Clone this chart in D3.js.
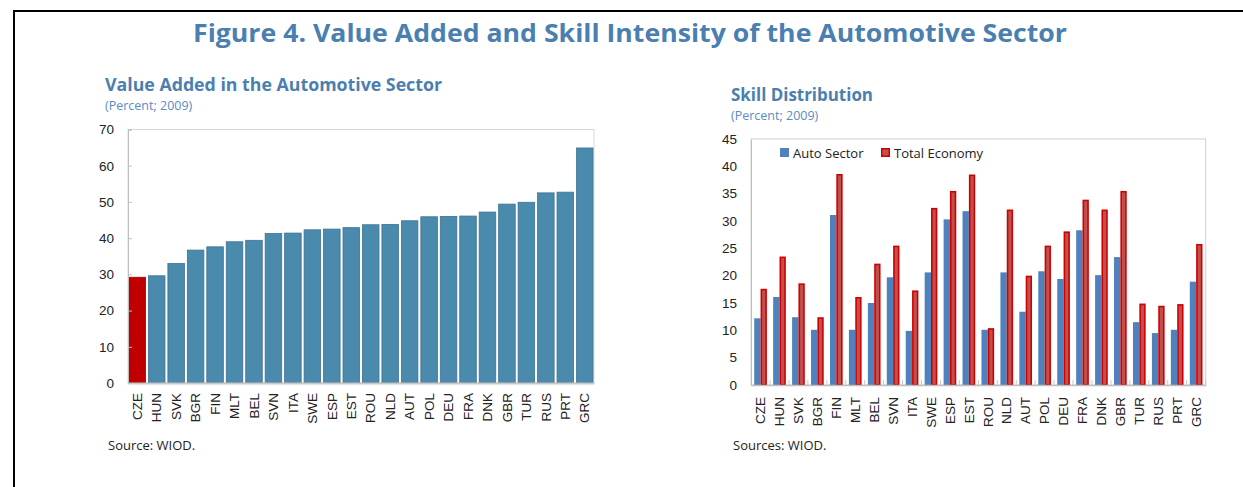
<!DOCTYPE html>
<html>
<head>
<meta charset="utf-8">
<script src="https://cdn.jsdelivr.net/npm/d3@7"></script>
<style>
  body { margin: 0; background: #fff; }
  svg { display: block; font-family: "Open Sans", "Noto Sans", sans-serif; }
</style>
</head>
<body>
<div id="chart"></div>
<script>
// data
const figureTitle = "Figure 4. Value Added and Skill Intensity of the Automotive Sector";

const vaCountries = ["CZE","HUN","SVK","BGR","FIN","MLT","BEL","SVN","ITA","SWE","ESP","EST",
  "ROU","NLD","AUT","POL","DEU","FRA","DNK","GBR","TUR","RUS","PRT","GRC"];
const vaValues = [29.2, 29.6, 33.0, 36.7, 37.6, 39.0, 39.4, 41.3, 41.4, 42.3, 42.5, 42.9,
  43.7, 43.8, 44.8, 45.9, 46.0, 46.1, 47.2, 49.4, 49.9, 52.5, 52.7, 64.9];
const vaHighlight = "CZE";
const vaTicks = [0, 10, 20, 30, 40, 50, 60, 70];

const skillCountries = ["CZE","HUN","SVK","BGR","FIN","MLT","BEL","SVN","ITA","SWE","ESP","EST",
  "ROU","NLD","AUT","POL","DEU","FRA","DNK","GBR","TUR","RUS","PRT","GRC"];
const autoSector = [12.2, 16.1, 12.4, 10.1, 31.1, 10.1, 15.0, 19.7, 9.9, 20.6, 30.3, 31.8,
  10.1, 20.6, 13.4, 20.8, 19.4, 28.3, 20.1, 23.4, 11.5, 9.5, 10.1, 18.9];
const totalEconomy = [17.6, 23.5, 18.6, 12.4, 38.6, 16.1, 22.2, 25.5, 17.3, 32.4, 35.5, 38.5,
  10.4, 32.1, 20.0, 25.5, 28.1, 33.9, 32.1, 35.5, 14.9, 14.5, 14.8, 25.8];
const seriesNames = ["Auto Sector", "Total Economy"];
const skillTicks = [0, 5, 10, 15, 20, 25, 30, 35, 40, 45];

const width = 1243, height = 487;
const blueTitle = "#4a7fb0";

const svg = d3.select("#chart").append("svg")
  .attr("width", width)
  .attr("height", height);

// frame lines (top and left)
svg.append("line").attr("x1", 14).attr("x2", width).attr("y1", 11).attr("y2", 11)
  .attr("stroke", "#000").attr("stroke-width", 2);
svg.append("line").attr("x1", 14).attr("x2", 14).attr("y1", 10).attr("y2", height)
  .attr("stroke", "#000").attr("stroke-width", 2);

svg.append("text")
  .attr("x", 193).attr("y", 42)
  .attr("textLength", 874).attr("lengthAdjust", "spacingAndGlyphs")
  .style("font-size", "25px").style("font-weight", "bold")
  .attr("fill", blueTitle)
  .text(figureTitle);

function panelTitle(x, y, title, sub, len) {
  svg.append("text").attr("x", x).attr("y", y)
    .attr("textLength", len).attr("lengthAdjust", "spacingAndGlyphs")
    .style("font-size", "17.5px").style("font-weight", "bold").attr("fill", blueTitle)
    .text(title);
  svg.append("text").attr("x", x).attr("y", y + 19)
    .style("font-size", "12.5px").attr("fill", "#5a8cc0")
    .text(sub);
}

// ---------- left panel: value added ----------
panelTitle(105, 91, "Value Added in the Automotive Sector", "(Percent; 2009)", 337);

const L = { left: 128, right: 594, top: 129.5, bottom: 383 };

const xL = d3.scaleBand().domain(vaCountries).range([L.left, L.right])
  .paddingInner(0.15).paddingOuter(0.05);
const yL = d3.scaleLinear().domain([0, 70]).range([L.bottom, L.top]);

const gL = svg.append("g");

gL.append("rect")
  .attr("x", L.left).attr("y", L.top)
  .attr("width", L.right - L.left).attr("height", L.bottom - L.top)
  .attr("fill", "none").attr("stroke", "#d9d9d9");

gL.selectAll("rect.bar")
  .data(vaCountries)
  .enter()
  .append("rect")
  .attr("class", "bar")
  .attr("x", d => xL(d))
  .attr("y", (d, i) => yL(vaValues[i]))
  .attr("width", xL.bandwidth())
  .attr("height", (d, i) => yL(0) - yL(vaValues[i]))
  .attr("fill", d => d == vaHighlight ? "#c00000" : "#4a8aad")
  .attr("stroke", d => d == vaHighlight ? "#a00000" : "#3d7393")
  .attr("stroke-width", 0.8);

const yAxisL = gL.append("g")
  .attr("transform", `translate(${L.left},0)`)
  .call(d3.axisLeft(yL).tickValues(vaTicks).tickSize(-4).tickPadding(14));
yAxisL.select(".domain").attr("stroke", "#bfbfbf");
yAxisL.selectAll(".tick line").attr("stroke", "#bfbfbf");
yAxisL.selectAll("text").style("font-size", "13.5px").attr("fill", "#222").style("font-family", "inherit");

const xAxisL = gL.append("g")
  .attr("transform", `translate(0,${L.bottom})`)
  .call(d3.axisBottom(xL).tickSize(0));
xAxisL.select(".domain").attr("stroke", "#c8c8c8").attr("stroke-width", 2);
xAxisL.selectAll("text")
  .attr("transform", "rotate(-90)")
  .attr("x", -10).attr("y", 0).attr("dy", "0.35em")
  .attr("text-anchor", "end")
  .style("font-size", "13.5px").attr("fill", "#222").style("font-family", "inherit");

svg.append("text").attr("x", 108).attr("y", 450)
  .style("font-size", "13px").attr("fill", "#222")
  .text("Source: WIOD.");

// ---------- right panel: skill distribution ----------
panelTitle(731, 101, "Skill Distribution", "(Percent; 2009)", 142);

const R = { left: 751, right: 1205.7, top: 139, bottom: 385 };

const x0 = d3.scaleBand().domain(skillCountries).range([R.left, R.right])
  .paddingInner(0.33).paddingOuter(0.17);
const x1 = d3.scaleBand().domain(seriesNames).range([0, x0.bandwidth()]);
const yR = d3.scaleLinear().domain([0, 45]).range([R.bottom, R.top]);

const gR = svg.append("g");

gR.append("rect")
  .attr("x", R.left).attr("y", R.top)
  .attr("width", R.right - R.left).attr("height", R.bottom - R.top)
  .attr("fill", "none").attr("stroke", "#d0d0d0");

const groups = gR.selectAll("g.grp")
  .data(skillCountries)
  .enter()
  .append("g")
  .attr("class", "grp")
  .attr("transform", d => `translate(${x0(d)},0)`);

groups.append("rect")
  .attr("x", x1("Auto Sector"))
  .attr("y", (d, i) => yR(autoSector[i]))
  .attr("width", x1.bandwidth())
  .attr("height", (d, i) => yR(0) - yR(autoSector[i]))
  .attr("fill", "#4f81bd");

groups.append("rect")
  .attr("x", x1("Total Economy") + 0.8)
  .attr("y", (d, i) => yR(totalEconomy[i]) + 0.8)
  .attr("width", x1.bandwidth() - 1.6)
  .attr("height", (d, i) => yR(0) - yR(totalEconomy[i]) - 0.8)
  .attr("fill", "#c0504d")
  .attr("stroke", "#d00000")
  .attr("stroke-width", 1.6);

const yAxisR = gR.append("g")
  .attr("transform", `translate(${R.left},0)`)
  .call(d3.axisLeft(yR).tickValues(skillTicks).tickSize(0).tickPadding(14));
yAxisR.select(".domain").attr("stroke", "#bfbfbf");
yAxisR.selectAll("text").style("font-size", "13.5px").attr("fill", "#222").style("font-family", "inherit");

const xAxisR = gR.append("g")
  .attr("transform", `translate(0,${R.bottom})`)
  .call(d3.axisBottom(x0).tickSize(0));
xAxisR.select(".domain").attr("stroke", "#bfbfbf").attr("stroke-width", 1.5);
xAxisR.selectAll("text")
  .attr("transform", "rotate(-90)")
  .attr("x", -12).attr("y", 0).attr("dy", "0.35em")
  .attr("text-anchor", "end")
  .style("font-size", "13.5px").attr("fill", "#222").style("font-family", "inherit");

// small separators between country groups
gR.selectAll("line.sep")
  .data(skillCountries)
  .enter()
  .append("line")
  .attr("class", "sep")
  .attr("x1", d => x0(d) + x0.bandwidth() + (x0.step() - x0.bandwidth()) / 2)
  .attr("x2", d => x0(d) + x0.bandwidth() + (x0.step() - x0.bandwidth()) / 2)
  .attr("y1", R.bottom).attr("y2", R.bottom - 5)
  .attr("stroke", "#c8c8c8");

// legend
const legend = gR.selectAll("g.leg")
  .data(seriesNames)
  .enter()
  .append("g")
  .attr("class", "leg")
  .attr("transform", (d, i) => `translate(${i == 0 ? 780 : 881},148)`);

legend.append("rect")
  .attr("x", (d, i) => i == 0 ? 0 : 0.75)
  .attr("y", (d, i) => i == 0 ? 0 : 0.75)
  .attr("width", (d, i) => i == 0 ? 9 : 7.5)
  .attr("height", (d, i) => i == 0 ? 9 : 7.5)
  .attr("fill", (d, i) => i == 0 ? "#4f81bd" : "#c0504d")
  .attr("stroke", (d, i) => i == 0 ? "none" : "#d00000")
  .attr("stroke-width", 1.5);

legend.append("text")
  .attr("x", 13).attr("y", 9.5)
  .style("font-size", "13px").attr("fill", "#222")
  .text(d => d);

svg.append("text").attr("x", 733).attr("y", 450)
  .style("font-size", "13px").attr("fill", "#222")
  .text("Sources: WIOD.");
</script>
</body>
</html>
